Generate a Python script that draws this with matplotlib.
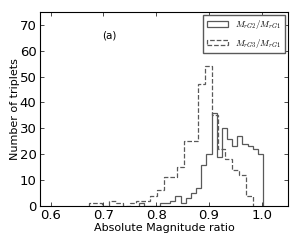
import numpy as np
import matplotlib
matplotlib.use("Agg")
import matplotlib.pyplot as plt
from matplotlib.patches import Rectangle

plt.rcParams['mathtext.fontset'] = 'cm'

# Histogram counts
# M_rG2/M_rG1 (solid), 24 bins between 0.768 and 1.003
g2_edges = np.linspace(0.768, 1.003, 25)
g2_counts = [1, 0, 0, 0, 1, 1, 2, 4, 1, 3, 5, 7,
             16, 20, 36, 19, 30, 26, 23, 27, 24, 23, 22, 20]

# M_rG3/M_rG1 (dashed), 24 bins between 0.672 and 0.983
g3_edges = np.linspace(0.672, 0.983, 25)
g3_counts = [1, 1, 0, 2, 1, 0, 1, 2, 2, 4, 6, 11,
             11, 15, 25, 25, 47, 54, 35, 22, 18, 14, 12, 4]

labels = [r'$M_{rG2}/M_{rG1}$', r'$M_{rG3}/M_{rG1}$']
xticks = [0.6, 0.7, 0.8, 0.9, 1.0]
yticks = [0, 10, 20, 30, 40, 50, 60, 70]

fig = plt.figure(figsize=(2.99, 2.40), dpi=100)
ax = fig.add_axes([0.134, 0.142, 0.829, 0.808])

ax.stairs(g2_counts, g2_edges, color='0.35', lw=0.9)
ax.stairs(g3_counts, g3_edges, color='0.35', lw=0.9, linestyle='--')

ax.set_xlim(0.58, 1.05)
ax.set_ylim(0, 75)
ax.set_xticks(xticks)
ax.set_yticks(yticks)
ax.tick_params(direction='in', top=True, right=True, labelsize=9.5,
               length=3, width=0.5, pad=2.5)
ax.set_xlabel("Absolute Magnitude ratio", fontsize=8, labelpad=0.5)
ax.set_ylabel("Number of triplets", fontsize=8, labelpad=0)

ax.text(0.712, 66, "(a)", fontsize=7.5, ha='center', va='center')

# legend with open boxes like the old step-histogram legend
handles = [Rectangle((0, 0), 1, 1, fill=False, edgecolor='0.35', lw=0.9),
           Rectangle((0, 0), 1, 1, fill=False, edgecolor='0.35', lw=0.9, linestyle='--')]
ax.legend(handles, labels, loc='upper right', fontsize=6.5, frameon=True, fancybox=False,
          edgecolor='0.35', framealpha=1, borderaxespad=0.3, handlelength=2.4,
          handleheight=0.6, labelspacing=0.6, borderpad=0.4)

fig.savefig("out.png", dpi=100)
